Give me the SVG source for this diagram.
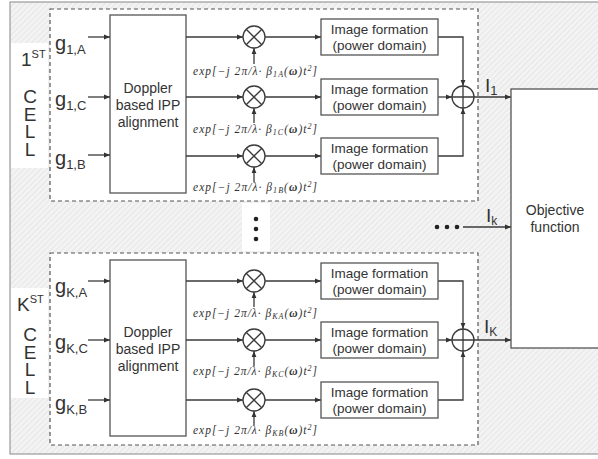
<svg xmlns="http://www.w3.org/2000/svg" width="598" height="459" viewBox="0 0 598 459">
<defs>
<pattern id="hatch" patternUnits="userSpaceOnUse" width="4" height="4" patternTransform="rotate(45)">
<rect width="4" height="4" fill="#f3f3f3"/>
<line x1="0" y1="0" x2="0" y2="4" stroke="#e0e0e0" stroke-width="1.3"/>
</pattern>
<marker id="arr" viewBox="0 0 10 10" refX="10" refY="5" markerWidth="6" markerHeight="6" orient="auto" markerUnits="userSpaceOnUse">
<path d="M0,1 L10,5 L0,9 Z" fill="#333"/>
</marker>
<style>
.ln{stroke:#3a3a3a;stroke-width:1.3;fill:none}
.a{marker-end:url(#arr)}
.box{fill:#fff;stroke:#555;stroke-width:1.3}
.cell{fill:#fff;stroke:#555;stroke-width:1.2;stroke-dasharray:4 3}
.t{font-family:"Liberation Sans",Arial,sans-serif;fill:#333}
.c{text-anchor:middle}
.box13{font-size:13.5px}
.g{font-size:20px}
.sub{font-size:13px}
.ex{font-family:"Liberation Serif",serif;font-style:italic;font-size:11.5px;fill:#333}
.big{font-size:19px}
.vert{font-size:19px;writing-mode:vertical-rl;text-orientation:upright;letter-spacing:-3.5px}
</style>
</defs>
<rect width="598" height="459" fill="#fff"/>
<rect x="10" y="2" width="600" height="452" fill="url(#hatch)" stroke="#9a9a9a" stroke-width="1.2"/>
<rect x="11" y="43" width="37" height="125" fill="#fff"/>
<rect x="11" y="288" width="37" height="110" fill="#fff"/>
<rect x="242" y="203" width="28" height="48" fill="#fff"/>

<g id="cell1"><rect class="cell" x="50" y="9" width="428" height="192"/></g>
<g id="cellK"><rect class="cell" x="50" y="253" width="428" height="192"/></g>

<g id="label1">
<text class="t big" x="21" y="66">1<tspan font-size="11" dy="-8">ST</tspan></text>
<text class="t vert" x="30" y="86">CELL</text>
</g>
<g id="labelK">
<text class="t big" x="17" y="311">K<tspan font-size="11" dy="-8">ST</tspan></text>
<text class="t vert" x="30" y="324">CELL</text>
</g>

<g id="inputs">
<text class="t g" x="55" y="50">g<tspan class="sub" dy="4">1,A</tspan></text>
<text class="t g" x="55" y="106">g<tspan class="sub" dy="4">1,C</tspan></text>
<text class="t g" x="55" y="165">g<tspan class="sub" dy="4">1,B</tspan></text>
<text class="t g" x="55" y="293">g<tspan class="sub" dy="4">K,A</tspan></text>
<text class="t g" x="55" y="349">g<tspan class="sub" dy="4">K,C</tspan></text>
<text class="t g" x="55" y="410">g<tspan class="sub" dy="4">K,B</tspan></text>
</g>

<g id="doppler1">
<rect class="box" x="110" y="15" width="76" height="178"/>
<text class="t c" font-size="14"><tspan x="148" y="93">Doppler</tspan><tspan x="148" y="110">based IPP</tspan><tspan x="148" y="126.5">alignment</tspan></text>
</g>
<g id="dopplerK">
<rect class="box" x="110" y="260" width="76" height="176"/>
<text class="t c" font-size="14"><tspan x="148" y="337">Doppler</tspan><tspan x="148" y="354">based IPP</tspan><tspan x="148" y="370.5">alignment</tspan></text>
</g>

<g id="connectors" class="ln">
<path class="a" d="M88,37 H110"/><path class="a" d="M88,97 H110"/><path class="a" d="M88,155 H110"/>
<path class="a" d="M88,281 H110"/><path class="a" d="M88,340 H110"/><path class="a" d="M88,400 H110"/>
<path class="a" d="M186,37 H243"/><path class="a" d="M186,97 H243"/><path class="a" d="M186,156 H243"/>
<path class="a" d="M186,281 H243"/><path class="a" d="M186,340 H243"/><path class="a" d="M186,400 H243"/>
<path class="a" d="M254,64 V48"/><path class="a" d="M254,123 V108"/><path class="a" d="M254,182 V167"/>
<path class="a" d="M254,307 V292"/><path class="a" d="M254,366 V351"/><path class="a" d="M254,425 V411"/>
<path class="a" d="M265,37 H321"/><path class="a" d="M265,97 H321"/><path class="a" d="M265,156 H321"/>
<path class="a" d="M265,281 H321"/><path class="a" d="M265,340 H321"/><path class="a" d="M265,400 H321"/>
<path class="a" d="M438,37 H463 V86"/><path class="a" d="M438,97 H452"/><path class="a" d="M438,156 H463 V108"/>
<path class="a" d="M438,281 H463 V329"/><path class="a" d="M438,340 H452"/><path class="a" d="M438,400 H463 V351"/>
<path class="a" d="M474,97 H511"/><path class="a" d="M463,227 H511"/><path class="a" d="M474,340 H511"/>
</g>

<g id="mult">
<g class="ln"><circle cx="254" cy="37" r="11"/><path d="M246.2,29.2 L261.8,44.8 M261.8,29.2 L246.2,44.8"/></g>
<g class="ln"><circle cx="254" cy="97" r="11"/><path d="M246.2,89.2 L261.8,104.8 M261.8,89.2 L246.2,104.8"/></g>
<g class="ln"><circle cx="254" cy="156" r="11"/><path d="M246.2,148.2 L261.8,163.8 M261.8,148.2 L246.2,163.8"/></g>
<g class="ln"><circle cx="254" cy="281" r="11"/><path d="M246.2,273.2 L261.8,288.8 M261.8,273.2 L246.2,288.8"/></g>
<g class="ln"><circle cx="254" cy="340" r="11"/><path d="M246.2,332.2 L261.8,347.8 M261.8,332.2 L246.2,347.8"/></g>
<g class="ln"><circle cx="254" cy="400" r="11"/><path d="M246.2,392.2 L261.8,407.8 M261.8,392.2 L246.2,407.8"/></g>
</g>

<g id="exps">
<text class="ex" x="193" y="75" textLength="124">exp[−j 2π/λ· β<tspan font-size="8" dy="2">1A</tspan><tspan dy="-2">(</tspan><tspan font-weight="bold">ω</tspan>)t<tspan font-size="8" dy="-4">2</tspan><tspan dy="4">]</tspan></text>
<text class="ex" x="193" y="133" textLength="124">exp[−j 2π/λ· β<tspan font-size="8" dy="2">1C</tspan><tspan dy="-2">(</tspan><tspan font-weight="bold">ω</tspan>)t<tspan font-size="8" dy="-4">2</tspan><tspan dy="4">]</tspan></text>
<text class="ex" x="193" y="191" textLength="124">exp[−j 2π/λ· β<tspan font-size="8" dy="2">1B</tspan><tspan dy="-2">(</tspan><tspan font-weight="bold">ω</tspan>)t<tspan font-size="8" dy="-4">2</tspan><tspan dy="4">]</tspan></text>
<text class="ex" x="193" y="317" textLength="124">exp[−j 2π/λ· β<tspan font-size="8" dy="2">KA</tspan><tspan dy="-2">(</tspan><tspan font-weight="bold">ω</tspan>)t<tspan font-size="8" dy="-4">2</tspan><tspan dy="4">]</tspan></text>
<text class="ex" x="193" y="375" textLength="124">exp[−j 2π/λ· β<tspan font-size="8" dy="2">KC</tspan><tspan dy="-2">(</tspan><tspan font-weight="bold">ω</tspan>)t<tspan font-size="8" dy="-4">2</tspan><tspan dy="4">]</tspan></text>
<text class="ex" x="193" y="434" textLength="124">exp[−j 2π/λ· β<tspan font-size="8" dy="2">KB</tspan><tspan dy="-2">(</tspan><tspan font-weight="bold">ω</tspan>)t<tspan font-size="8" dy="-4">2</tspan><tspan dy="4">]</tspan></text>
</g>

<g id="img1A"><rect class="box" x="321" y="19" width="117" height="36"/><text class="t c box13"><tspan x="379.5" y="33.5">Image formation</tspan><tspan x="379.5" y="50">(power domain)</tspan></text></g>
<g id="img1C"><rect class="box" x="321" y="79" width="117" height="36"/><text class="t c box13"><tspan x="379.5" y="93.5">Image formation</tspan><tspan x="379.5" y="110">(power domain)</tspan></text></g>
<g id="img1B"><rect class="box" x="321" y="138" width="117" height="36"/><text class="t c box13"><tspan x="379.5" y="152.5">Image formation</tspan><tspan x="379.5" y="169">(power domain)</tspan></text></g>
<g id="imgKA"><rect class="box" x="321" y="263" width="117" height="36"/><text class="t c box13"><tspan x="379.5" y="277.5">Image formation</tspan><tspan x="379.5" y="294">(power domain)</tspan></text></g>
<g id="imgKC"><rect class="box" x="321" y="322" width="117" height="36"/><text class="t c box13"><tspan x="379.5" y="336.5">Image formation</tspan><tspan x="379.5" y="353">(power domain)</tspan></text></g>
<g id="imgKB"><rect class="box" x="321" y="382" width="117" height="36"/><text class="t c box13"><tspan x="379.5" y="396.5">Image formation</tspan><tspan x="379.5" y="413">(power domain)</tspan></text></g>

<g id="sum1" class="ln"><circle cx="463" cy="97" r="11"/><path d="M452,97 H474 M463,86 V108"/></g>
<g id="sumK" class="ln"><circle cx="463" cy="340" r="11"/><path d="M452,340 H474 M463,329 V351"/></g>

<g id="outlabels">
<text class="t big" x="485" y="92">I<tspan class="sub" dy="3">1</tspan></text>
<text class="t big" x="486" y="222">I<tspan font-size="12" dy="3">k</tspan></text>
<text class="t big" x="484" y="333">I<tspan font-size="12" dy="3">K</tspan></text>
</g>

<g id="dots">
<circle cx="437" cy="227" r="2.3" fill="#222"/><circle cx="447" cy="227" r="2.3" fill="#222"/><circle cx="457" cy="227" r="2.3" fill="#222"/>
<circle cx="256" cy="219" r="2.3" fill="#222"/><circle cx="256" cy="229" r="2.3" fill="#222"/><circle cx="256" cy="239" r="2.3" fill="#222"/>
</g>

<g id="objective">
<rect class="box" x="511" y="89" width="100" height="259"/>
<text class="t c" font-size="14"><tspan x="555" y="215">Objective</tspan><tspan x="555" y="232">function</tspan></text>
</g>
</svg>
